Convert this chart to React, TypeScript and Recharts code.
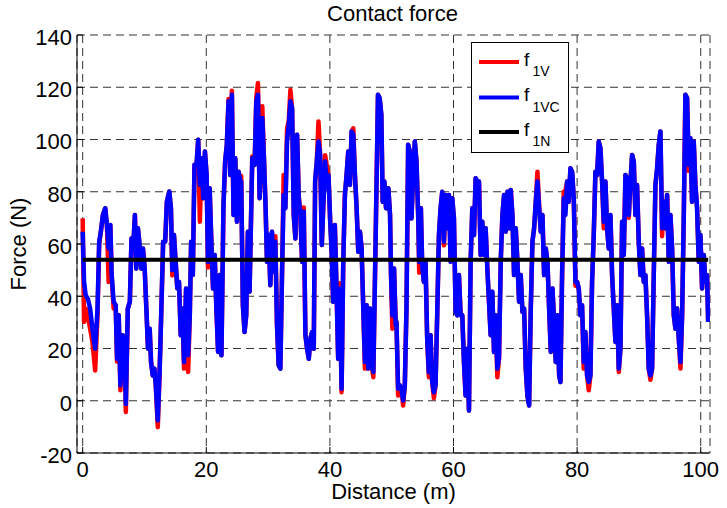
import React from 'react';
import { LineChart, Line, XAxis, YAxis, CartesianGrid } from 'recharts';

// Distance (m) sample positions
const distance = [
  0.0, 0.22, 0.49, 0.82, 1.2, 1.58, 2.02, 2.4, 2.67, 2.94, 3.27, 3.65, 3.92, 4.2, 4.47, 4.69, 5.01, 5.34, 5.56, 5.83,
  6.1, 6.49, 6.76, 6.98, 7.3, 7.63, 7.9, 8.17, 8.45, 8.66, 8.94, 9.21, 9.48, 9.75, 10.03, 10.3, 10.57, 10.84, 11.06, 11.34,
  11.61, 11.83, 12.15, 12.43, 12.7, 13.02, 13.35, 13.62, 14.01, 14.28, 14.5, 14.77, 15.04, 15.31, 15.59, 15.86, 16.13, 16.4, 16.73, 17.06,
  17.33, 17.55, 17.82, 18.09, 18.42, 18.69, 18.96, 19.24, 19.51, 19.78, 20.05, 20.27, 20.54, 20.82, 21.09, 21.36, 21.63, 21.91, 22.18, 22.45,
  22.78, 23.05, 23.32, 23.6, 23.87, 24.14, 24.41, 24.69, 24.96, 25.23, 25.5, 25.65, 25.92, 26.19, 26.46, 26.73, 27.0, 27.44, 27.82, 28.09,
  28.36, 28.63, 28.79, 29.06, 29.33, 29.6, 29.82, 30.09, 30.36, 30.63, 30.9, 31.17, 31.44, 31.71, 31.98, 32.25, 32.52, 32.79, 33.07, 33.34,
  33.61, 33.88, 34.15, 34.42, 34.69, 34.96, 35.23, 35.5, 35.77, 36.04, 36.31, 36.58, 36.85, 37.12, 37.39, 37.61, 37.88, 38.15, 38.42, 38.69,
  38.96, 39.23, 39.5, 39.77, 40.05, 40.26, 40.53, 40.8, 41.07, 41.34, 41.61, 41.89, 42.16, 42.43, 42.7, 42.97, 43.24, 43.51, 43.78, 44.05,
  44.32, 44.59, 44.86, 45.13, 45.4, 45.67, 45.94, 46.21, 46.49, 46.76, 47.03, 47.3, 47.57, 47.78, 48.05, 48.32, 48.54, 48.81, 49.08, 49.46,
  49.73, 49.89, 50.11, 50.38, 50.65, 50.77, 51.04, 51.31, 51.58, 51.85, 52.12, 52.39, 52.66, 52.93, 53.2, 53.47, 53.74, 54.01, 54.28, 54.45,
  54.72, 54.93, 55.2, 55.47, 55.74, 56.01, 56.28, 56.55, 56.82, 57.09, 57.36, 57.64, 57.91, 58.18, 58.45, 58.72, 58.99, 59.26, 59.53, 59.8,
  60.07, 60.34, 60.61, 60.88, 61.15, 61.42, 61.69, 61.96, 62.23, 62.5, 62.77, 63.04, 63.31, 63.58, 63.85, 64.12, 64.39, 64.66, 64.93, 65.2,
  65.47, 65.74, 66.01, 66.28, 66.55, 66.82, 67.09, 67.36, 67.64, 67.91, 68.18, 68.45, 68.72, 68.99, 69.26, 69.53, 69.8, 70.07, 70.34, 70.61,
  70.88, 71.15, 71.42, 71.69, 71.96, 72.23, 72.5, 72.77, 73.04, 73.31, 73.58, 73.85, 74.12, 74.39, 74.66, 74.93, 75.2, 75.47, 75.74, 76.01,
  76.28, 76.55, 76.82, 77.09, 77.3, 77.57, 77.84, 78.11, 78.38, 78.65, 78.92, 79.19, 79.46, 79.73, 80.0, 80.26, 80.53, 80.8, 81.07, 81.34,
  81.61, 81.88, 82.15, 82.42, 82.69, 82.96, 83.23, 83.5, 83.77, 84.04, 84.31, 84.58, 84.85, 85.12, 85.39, 85.66, 85.93, 86.2, 86.47, 86.74,
  87.01, 87.28, 87.55, 87.82, 88.09, 88.36, 88.63, 88.9, 89.17, 89.43, 89.7, 89.97, 90.24, 90.51, 90.78, 91.05, 91.32, 91.59, 91.86, 92.13,
  92.4, 92.67, 92.94, 93.21, 93.48, 93.75, 94.02, 94.29, 94.56, 94.83, 95.1, 95.37, 95.64, 95.91, 96.18, 96.45, 96.72, 96.99, 97.26, 97.52,
  97.79, 98.06, 98.33, 98.6, 98.87, 99.14, 99.41, 99.68, 99.95, 100.22, 100.49, 100.76, 101.03, 101.2,
];

// f1VC (blue) force values, N
const f1VC = [
  64.7, 45.5, 40.4, 39.1, 35.3, 27.6, 19.9, 35.3, 60.9, 64.7, 71.1, 73.7, 67.3, 58.3, 67.3, 48.1, 37.9, 36.6, 16.1, 32.7,
  5.9, 25.1, 22.5, -1.2, 35.3, 37.9, 62.1, 58.3, 71.1, 50.6, 66.0, 59.6, 50.6, 58.3, 50.6, 35.3, 19.9, 27.6, 14.8, 9.7,
  12.3, 5.9, -7.5, 9.7, 32.7, 60.9, 60.9, 76.2, 80.1, 73.7, 50.0, 63.4, 53.2, 43.0, 45.5, 25.1, 35.3, 14.8, 43.0, 17.4,
  32.7, 60.9, 48.1, 90.3, 90.3, 99.9, 82.6, 92.8, 77.5, 95.4, 86.4, 53.2, 81.3, 60.9, 43.0, 55.8, 35.3, 18.7, 48.1, 17.4,
  74.9, 91.6, 98.0, 114.6, 86.4, 117.1, 71.1, 92.8, 68.5, 87.7, 83.9, 83.9, 36.6, 26.3, 32.7, 64.7, 41.7, 92.8, 90.3, 114.6,
  117.1, 77.5, 89.0, 108.2, 92.8, 73.7, 53.2, 63.4, 44.2, 64.7, 49.4, 60.9, 28.9, 13.6, 12.3, 48.1, 78.8, 73.7, 99.2, 105.6,
  114.6, 112.0, 71.1, 62.1, 101.8, 77.5, 71.1, 53.2, 72.4, 25.1, 19.9, 16.1, 23.8, 26.3, 19.9, 83.9, 91.6, 99.2, 94.1, 59.6,
  76.2, 91.6, 81.3, 86.4, 68.5, 58.3, 37.9, 67.3, 43.0, 16.1, 43.0, 4.6, 53.2, 78.8, 86.4, 95.4, 82.6, 103.1, 101.8, 86.4,
  73.7, 57.0, 64.7, 58.3, 35.3, 14.8, 36.6, 12.3, 35.3, 13.6, 11.0, 48.1, 86.4, 117.1, 115.9, 109.5, 76.2, 83.9, 73.7, 81.3,
  71.1, 48.1, 32.7, 50.6, 28.9, 30.2, 4.6, 5.9, 4.6, 0.1, 5.9, 35.3, 98.0, 95.4, 69.8, 86.4, 99.2, 91.6, 71.1, 53.2,
  73.7, 51.9, 45.5, 53.2, 23.8, 11.0, 25.1, 7.2, 3.3, 5.9, 32.7, 63.4, 73.7, 80.0, 60.9, 78.8, 66.0, 78.8, 53.2, 77.5,
  69.8, 34.0, 32.7, 48.1, 32.7, 32.7, 14.8, 2.0, 19.9, -3.7, 53.2, 73.7, 63.4, 85.2, 83.9, 83.9, 55.8, 68.5, 55.8, 66.0,
  50.6, 37.9, 25.1, 41.7, 18.7, 32.7, 12.3, 16.1, 53.2, 71.1, 78.8, 64.7, 80.0, 66.0, 80.7, 71.1, 48.1, 66.0, 53.2, 37.9,
  48.1, 34.0, 35.3, 12.3, 2.0, -1.8, 35.3, 60.9, 66.0, 76.2, 83.9, 73.7, 64.7, 71.1, 48.1, 58.3, 53.2, 35.3, 18.7, 43.0,
  30.2, 14.8, 32.7, 9.7, 7.2, 48.1, 77.5, 71.1, 83.9, 76.2, 89.0, 87.7, 77.5, 45.5, 45.5, 43.0, 32.7, 36.6, 14.8, 26.3,
  9.7, 7.2, 9.7, 45.5, 63.4, 87.7, 86.4, 99.2, 96.7, 83.9, 68.5, 83.9, 66.0, 58.3, 71.1, 48.1, 35.3, 22.5, 36.6, 12.3,
  19.9, 68.5, 55.8, 86.4, 85.2, 71.1, 83.9, 94.1, 91.6, 71.1, 82.6, 60.9, 48.1, 58.3, 45.5, 48.1, 32.7, 12.3, 9.7, 12.3,
  48.1, 82.6, 89.0, 98.0, 103.1, 66.0, 76.2, 66.0, 78.8, 53.2, 71.1, 58.3, 32.7, 27.6, 35.3, 23.8, 14.8, 32.7, 71.1, 117.1,
  115.9, 90.3, 100.5, 76.2, 99.2, 82.6, 73.7, 53.2, 63.4, 43.0, 55.8, 45.5, 48.1, 30.2,
];

// f1V (red) force values, N
const f1V = [
  69.8, 30.2, 35.3, 32.7, 27.6, 22.5, 11.6, 33.0, 60.0, 64.7, 71.1, 73.7, 67.3, 45.5, 67.3, 48.1, 35.3, 36.6, 15.0, 32.7,
  4.0, 25.1, 22.5, -4.3, 35.3, 37.9, 62.1, 58.3, 71.1, 50.6, 66.0, 59.6, 50.6, 58.3, 50.6, 35.3, 19.9, 27.6, 14.8, 9.7,
  12.3, 5.9, -10.1, 9.7, 32.7, 60.9, 60.9, 76.2, 80.1, 73.7, 48.0, 63.4, 53.2, 43.0, 45.5, 25.1, 35.3, 12.3, 43.0, 11.0,
  32.7, 60.9, 48.1, 90.3, 90.3, 99.9, 68.5, 92.8, 77.5, 95.4, 86.4, 51.0, 81.3, 60.9, 43.0, 55.8, 35.3, 18.7, 48.1, 17.4,
  74.9, 91.6, 98.0, 115.5, 86.4, 118.7, 71.1, 92.8, 68.5, 87.7, 83.9, 86.0, 36.6, 26.3, 32.7, 64.7, 41.7, 93.5, 90.3, 116.0,
  121.6, 77.5, 89.0, 112.7, 92.8, 73.7, 53.2, 63.4, 44.2, 64.7, 49.4, 63.0, 28.9, 13.6, 12.3, 48.1, 86.4, 73.7, 104.3, 107.0,
  119.0, 112.0, 71.1, 62.1, 101.8, 78.5, 71.1, 53.2, 74.0, 25.1, 19.9, 16.1, 23.8, 26.3, 19.9, 83.9, 91.6, 106.9, 94.1, 59.6,
  76.2, 94.0, 90.0, 86.4, 68.5, 58.3, 37.9, 67.3, 43.0, 16.1, 45.0, 3.3, 53.2, 78.8, 86.4, 95.4, 82.6, 103.1, 104.3, 86.4,
  73.7, 57.0, 64.7, 58.3, 35.3, 12.3, 36.6, 12.3, 35.3, 13.6, 9.0, 48.1, 86.4, 117.1, 115.9, 109.5, 76.2, 83.9, 73.7, 81.3,
  71.1, 48.1, 27.6, 50.6, 28.9, 30.2, 2.0, 5.9, 4.6, -1.8, 5.9, 35.3, 98.0, 95.4, 69.8, 86.4, 99.2, 91.6, 71.1, 49.0,
  73.7, 51.9, 45.5, 53.2, 23.8, 9.0, 25.1, 7.2, 1.0, 5.9, 32.7, 63.4, 73.7, 80.0, 59.5, 78.8, 66.0, 78.8, 53.2, 77.5,
  69.8, 34.0, 32.7, 48.1, 32.7, 32.7, 14.8, 2.0, 19.9, -3.7, 53.2, 73.7, 63.4, 85.2, 83.9, 83.9, 55.8, 68.5, 55.8, 66.0,
  50.6, 37.9, 25.1, 41.7, 18.7, 32.7, 9.0, 16.1, 53.2, 71.1, 78.8, 64.7, 80.0, 66.0, 80.7, 71.1, 48.1, 66.0, 53.2, 37.9,
  48.1, 34.0, 35.3, 12.3, 2.0, -1.8, 35.3, 60.9, 66.0, 76.2, 87.7, 75.0, 64.7, 71.1, 48.1, 58.3, 53.2, 35.3, 18.7, 43.0,
  30.2, 14.8, 32.7, 9.7, 7.2, 48.1, 80.0, 80.4, 83.9, 76.2, 89.0, 87.7, 77.5, 44.0, 45.5, 43.0, 32.7, 36.6, 12.3, 26.3,
  9.7, 4.0, 9.7, 45.5, 63.4, 87.7, 86.4, 99.2, 96.7, 83.9, 66.0, 83.9, 66.0, 58.3, 71.1, 48.1, 35.3, 22.5, 36.6, 11.0,
  19.9, 68.5, 55.8, 86.4, 85.2, 70.0, 83.9, 94.1, 91.6, 71.1, 82.6, 60.9, 48.1, 58.3, 45.5, 48.1, 32.7, 12.3, 8.0, 12.3,
  48.1, 82.6, 89.0, 98.0, 103.1, 63.0, 76.2, 66.0, 78.8, 53.2, 71.1, 58.3, 32.7, 27.6, 35.3, 23.8, 12.3, 32.7, 71.1, 117.1,
  115.9, 88.0, 100.5, 76.2, 99.2, 82.6, 73.7, 53.2, 63.4, 43.0, 55.8, 45.5, 48.1, 30.2,
];

// f1N (black) nominal force
const nominalDistance = [0, 101.2];
const f1N = [54, 54];

const xTicks = [0, 20, 40, 60, 80, 100];
const yTicks = [-20, 0, 20, 40, 60, 80, 100, 120, 140];

const seriesData = distance.map((d, i) => ({ d, f1V: f1V[i], f1VC: f1VC[i] }));
const nominalData = nominalDistance.map((d, i) => ({ d, f1N: f1N[i] }));

const FONT = '"Liberation Sans", Arial, Helvetica, sans-serif';
const tickStyle = { fill: '#000', fontSize: 22 };

const legendItems = [
  { color: '#ff0000', sub: '1V' },
  { color: '#0000ff', sub: '1VC' },
  { color: '#000000', sub: '1N' },
];

export default function App() {
  return (
    <div style={{ position: 'absolute', left: 0, top: 0, width: 727, height: 508, fontFamily: FONT, background: '#fff' }}>
      <LineChart
        width={727}
        height={508}
        data={seriesData}
        margin={{ top: 35, right: 17, bottom: 0, left: 0 }}
      >
        <CartesianGrid stroke="#333" strokeDasharray="8 5" strokeWidth={1} />
        <XAxis
          dataKey="d"
          type="number"
          domain={[-0.92, 101.5]}
          ticks={xTicks}
          interval={0}
          allowDataOverflow
          height={55}
          tickSize={-6}
          tickMargin={14}
          tick={tickStyle}
          stroke="#000"
          axisLine={{ stroke: '#000' }}
          tickLine={{ stroke: '#000' }}
          label={{ value: 'Distance (m)', position: 'insideBottom', offset: 9, fill: '#000', fontSize: 22 }}
        />
        <XAxis
          xAxisId="top"
          orientation="top"
          dataKey="d"
          type="number"
          domain={[-0.92, 101.5]}
          ticks={xTicks}
          interval={0}
          allowDataOverflow
          height={0}
          tickSize={-6}
          tick={false}
          axisLine={{ stroke: '#000' }}
          tickLine={{ stroke: '#000' }}
        />
        <YAxis
          type="number"
          domain={[-20, 140]}
          ticks={yTicks}
          interval={0}
          allowDataOverflow
          width={77}
          tickSize={-6}
          tickMargin={11}
          tick={{ ...tickStyle, dy: 2 }}
          axisLine={{ stroke: '#000' }}
          tickLine={{ stroke: '#000' }}
          label={{
            value: 'Force (N)',
            angle: -90,
            position: 'insideLeft',
            offset: 18,
            fill: '#000',
            fontSize: 22,
            style: { textAnchor: 'middle' },
          }}
        />
        <YAxis
          yAxisId="right"
          orientation="right"
          type="number"
          domain={[-20, 140]}
          ticks={yTicks}
          interval={0}
          allowDataOverflow
          width={0}
          tickSize={-6}
          tick={false}
          axisLine={{ stroke: '#000' }}
          tickLine={{ stroke: '#000' }}
        />
        <Line
          type="linear"
          dataKey="f1V"
          stroke="#ff0000"
          strokeWidth={4.5}
          strokeLinejoin="round"
          dot={false}
          activeDot={false}
          isAnimationActive={false}
        />
        <Line
          type="linear"
          dataKey="f1VC"
          stroke="#0000ff"
          strokeWidth={4.5}
          strokeLinejoin="round"
          dot={false}
          activeDot={false}
          isAnimationActive={false}
        />
        <Line
          type="linear"
          data={nominalData}
          dataKey="f1N"
          stroke="#000000"
          strokeWidth={4}
          dot={false}
          activeDot={false}
          isAnimationActive={false}
        />
      </LineChart>

      <div
        style={{
          position: 'absolute',
          left: 76,
          top: 3,
          width: 633,
          textAlign: 'center',
          fontSize: 22,
          lineHeight: '22px',
          color: '#000',
        }}
      >
        Contact force
      </div>

      <div
        style={{
          position: 'absolute',
          left: 471,
          top: 42,
          width: 98,
          height: 111,
          border: '1px solid #000',
          background: '#fff',
          boxSizing: 'border-box',
        }}
      >
        <svg width={96} height={109} style={{ display: 'block' }}>
          {legendItems.map((it, i) => {
            const ly = [19, 54.5, 89][i];
            return (
              <g key={it.sub}>
                <line x1={7} x2={47} y1={ly} y2={ly} stroke={it.color} strokeWidth={4} />
                <text x={52} y={ly + 3.5} fontSize={19} fill="#000" fontFamily={FONT}>f</text>
                <text x={60.5} y={ly + 14} fontSize={14} fill="#000" fontFamily={FONT}>{it.sub}</text>
              </g>
            );
          })}
        </svg>
      </div>
    </div>
  );
}
